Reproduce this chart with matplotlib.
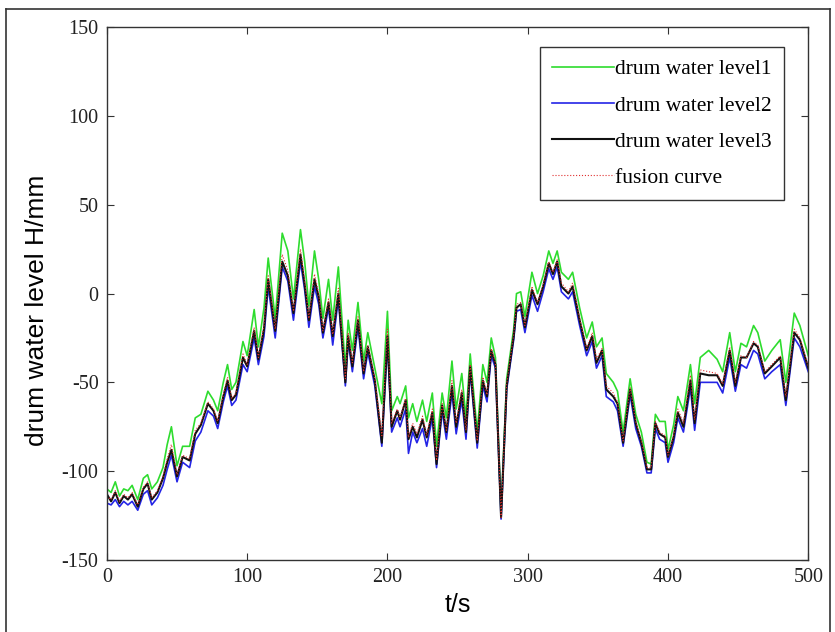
import matplotlib
matplotlib.use("Agg")
import matplotlib.pyplot as plt
from matplotlib.lines import Line2D

plt.rcParams['axes.unicode_minus'] = False

# sample times (s)
t = [0, 3, 6, 9, 12, 15, 18, 22, 26, 29,
     32, 36, 40, 43, 46, 50, 54, 59, 63, 67,
     72, 76, 79, 83, 86, 89, 92, 97, 100, 105,
     108, 112, 115, 120, 125, 129, 133, 138, 141, 144,
     148, 151, 154, 158, 161, 165, 170, 172, 175, 179,
     183, 186, 191, 196, 200, 203, 207, 209, 213, 215,
     218, 221, 225, 228, 232, 235, 239, 242, 246, 249,
     253, 256, 259, 264, 268, 271, 274, 277, 281, 285,
     290, 292, 295, 298, 303, 307, 311, 315, 318, 321,
     324, 329, 332, 337, 342, 346, 349, 353, 356, 361,
     364, 368, 373, 377, 381, 385, 388, 391, 394, 398,
     400, 404, 407, 411, 416, 419, 423, 429, 435, 439,
     444, 448, 452, 456, 461, 464, 469, 474, 480, 484,
     490, 494, 500]

level1 = [-110, -112, -106, -114, -110, -111, -108, -116, -104, -102,
          -110, -106, -98, -85, -75, -97, -86, -86, -70, -68,
          -55, -60, -66, -50, -40, -54, -50, -27, -35, -9,
          -30, -8, 20, -14, 34, 24, -3, 36, 18, -7,
          24, 8, -14, 8, -15, 15, -42, -15, -32, -5,
          -38, -22, -42, -62, -10, -66, -58, -62, -52, -70,
          -62, -72, -60, -72, -56, -86, -56, -70, -38, -65,
          -45, -70, -34, -78, -40, -50, -25, -36, -124, -48,
          -20, 0, 1, -13, 12, 0, 10, 24, 17, 24,
          12, 8, 12, -8, -25, -16, -30, -25, -45, -50,
          -55, -78, -48, -68, -78, -95, -96, -68, -72, -72,
          -88, -74, -58, -66, -40, -62, -36, -32, -37, -44,
          -22, -44, -28, -30, -18, -22, -38, -32, -26, -50,
          -11, -18, -35]

level2 = [-118, -119, -116, -120, -117, -119, -117, -122, -113, -111,
          -119, -115, -108, -99, -91, -106, -95, -98, -83, -78,
          -66, -69, -76, -61, -52, -63, -60, -40, -44, -25,
          -40, -24, 4, -25, 15, 7, -15, 18, 2, -19,
          4, -6, -25, -8, -29, -3, -52, -27, -44, -19,
          -48, -33, -52, -86, -28, -78, -70, -75, -65, -90,
          -78, -84, -76, -86, -70, -98, -66, -82, -56, -79,
          -60, -82, -44, -87, -52, -61, -35, -42, -127, -54,
          -26, -10, -9, -22, -1, -10, 1, 14, 8, 15,
          1, -3, 1, -18, -35, -27, -42, -35, -58, -61,
          -66, -86, -57, -76, -86, -101, -101, -76, -82, -84,
          -95, -84, -70, -78, -53, -77, -50, -50, -50, -56,
          -36, -55, -40, -42, -32, -34, -48, -44, -40, -63,
          -25, -30, -44]

level3 = [-113, -117, -112, -118, -114, -116, -113, -120, -110, -107,
          -116, -112, -104, -95, -88, -103, -92, -94, -79, -74,
          -62, -66, -73, -58, -49, -60, -57, -36, -41, -21,
          -37, -20, 8, -21, 18, 10, -11, 22, 5, -15,
          8, -2, -22, -5, -24, 0, -50, -24, -41, -15,
          -45, -30, -49, -84, -24, -75, -66, -71, -60, -82,
          -75, -81, -71, -81, -67, -96, -63, -78, -52, -75,
          -56, -78, -41, -84, -49, -58, -32, -40, -126, -52,
          -24, -8, -6, -19, 2, -6, 4, 17, 11, 18,
          4, 0, 4, -15, -32, -24, -39, -32, -54, -58,
          -62, -84, -54, -73, -84, -99, -99, -73, -79, -81,
          -92, -81, -67, -75, -49, -73, -45, -46, -46, -52,
          -32, -52, -36, -36, -28, -30, -45, -41, -36, -60,
          -22, -26, -42]

fusion = [-114, -116, -111, -117, -113, -115, -112, -119, -109, -106,
          -115, -111, -103, -93, -85, -102, -91, -93, -77, -73,
          -61, -65, -72, -57, -47, -59, -56, -34, -40, -19,
          -36, -18, 10, -20, 22, 13, -10, 25, 7, -14,
          11, 0, -21, -3, -23, 3, -48, -22, -39, -13,
          -44, -29, -48, -80, -20, -73, -65, -70, -59, -81,
          -73, -79, -69, -80, -65, -94, -62, -77, -49, -73,
          -54, -77, -40, -83, -47, -57, -31, -39, -126, -51,
          -23, -6, -5, -18, 4, -5, 5, 18, 12, 19,
          6, 1, 6, -14, -31, -22, -37, -31, -52, -56,
          -61, -83, -53, -72, -83, -98, -98, -72, -78, -80,
          -91, -80, -65, -73, -46, -71, -43, -44, -45, -51,
          -30, -50, -35, -36, -27, -29, -44, -40, -35, -58,
          -20, -25, -41]

labels = ['drum water level1', 'drum water level2', 'drum water level3', 'fusion curve']
colors = ['#2edc2e', '#2424e6', '#111111', '#e03030']


def main():
    fig = plt.figure(figsize=(8.35, 6.32), dpi=100)
    ax = fig.add_axes([0.128, 0.114, 0.840, 0.843])

    ax.plot(t, level1, color=colors[0], lw=1.2, label=labels[0])
    ax.plot(t, level2, color=colors[1], lw=1.2, label=labels[1])
    ax.plot(t, level3, color=colors[2], lw=1.5, label=labels[2])
    ax.plot(t, fusion, color=colors[3], lw=0.8, ls=':', label=labels[3])

    ax.set_xlim(0, 500)
    ax.set_ylim(-150, 150)
    ax.set_xticks(range(0, 501, 100))
    ax.set_yticks(range(-150, 151, 50))
    ax.tick_params(direction='in', top=True, right=True, length=5,
                   labelsize=14.5, colors='#333333', pad=6)
    for lab in ax.get_xticklabels() + ax.get_yticklabels():
        lab.set_family('Liberation Serif')
        lab.set_color('#222222')
    for sp in ax.spines.values():
        sp.set_color('#333333')
        sp.set_linewidth(1.0)

    ax.set_xlabel('t/s', family='Liberation Sans', fontsize=18, labelpad=4)
    ax.set_ylabel('drum water level H/mm', family='Liberation Sans', fontsize=19)
    ax.yaxis.set_label_coords(-0.082, 0.469)

    leg = ax.legend(loc='upper right', bbox_to_anchor=(0.965, 0.962),
                    prop={'family': 'Liberation Serif', 'size': 15.5},
                    handlelength=2.9, handletextpad=0.05, borderpad=0.55,
                    labelspacing=0.75, borderaxespad=0, fancybox=False,
                    framealpha=1)
    leg.get_frame().set_edgecolor('#333333')
    leg.get_frame().set_linewidth(1.0)

    # outer frame around the figure
    fig.add_artist(Line2D([0.007, 0.007], [0.0, 0.985], color='#333333', lw=1.2, transform=fig.transFigure))
    fig.add_artist(Line2D([0.007, 0.994], [0.985, 0.985], color='#333333', lw=1.2, transform=fig.transFigure))
    fig.add_artist(Line2D([0.994, 0.994], [0.0, 0.985], color='#333333', lw=1.2, transform=fig.transFigure))

    fig.savefig('out.png', dpi=100)


if __name__ == '__main__':
    main()
